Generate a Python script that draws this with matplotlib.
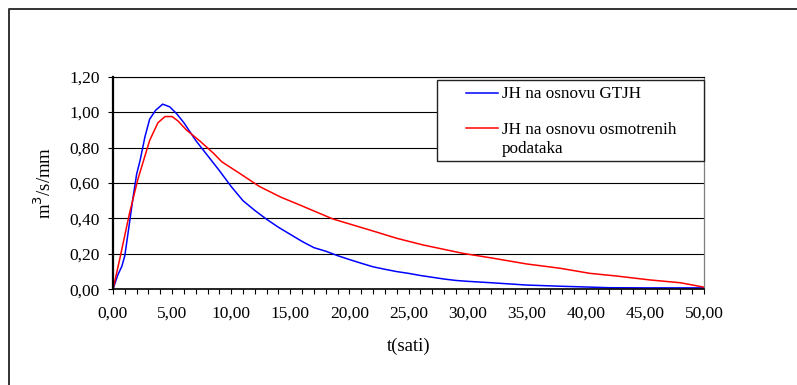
import matplotlib
matplotlib.use("Agg")
import matplotlib.pyplot as plt
from matplotlib.lines import Line2D
from matplotlib.patches import Rectangle
from matplotlib.ticker import MultipleLocator, FuncFormatter

plt.rcParams['font.family'] = ['Liberation Serif', 'DejaVu Serif']

# --- data ---
t_gtjh = [0, 0.4, 0.75, 1.0, 1.3, 1.7, 2.0, 2.3, 2.7, 3.1, 3.6, 4.2, 4.8, 5.4, 6.0,
          7.0, 8.0, 9.0, 10.0, 11.0, 12.0, 13.0, 14.0, 15.0, 16.0, 17.0, 18.0, 19.0,
          20.0, 21.0, 22.0, 23.0, 24.0, 25.0, 26.0, 27.0, 28.0, 29.0, 30.0, 32.0,
          35.0, 38.0, 42.0, 45.0, 50.0]
q_gtjh = [0, 0.08, 0.13, 0.19, 0.33, 0.52, 0.65, 0.73, 0.86, 0.96, 1.01, 1.045, 1.03,
          0.99, 0.94, 0.84, 0.755, 0.67, 0.58, 0.50, 0.445, 0.395, 0.35, 0.31, 0.27,
          0.235, 0.215, 0.19, 0.168, 0.147, 0.127, 0.113, 0.10, 0.09, 0.078, 0.068,
          0.058, 0.05, 0.045, 0.037, 0.024, 0.017, 0.009, 0.008, 0.008]

t_obs = [0, 0.6, 1.4, 2.1, 2.6, 3.1, 3.8, 4.4, 5.0, 5.5, 6.2, 7.4, 8.5, 9.2, 10.7,
         12.4, 14.2, 15.8, 18.6, 22.0, 24.0, 26.25, 29.6, 32.2, 35.0, 37.8, 40.35,
         42.6, 45.4, 48.0, 50.0]
q_obs = [0, 0.18, 0.43, 0.62, 0.73, 0.84, 0.94, 0.975, 0.975, 0.95, 0.90, 0.834,
         0.768, 0.72, 0.655, 0.58, 0.52, 0.476, 0.397, 0.329, 0.288, 0.25, 0.203,
         0.175, 0.143, 0.119, 0.09, 0.075, 0.053, 0.037, 0.012]

label_gtjh = "JH na osnovu GTJH"
label_obs_lines = ["JH na osnovu osmotrenih", "podataka"]
x_label = "t(sati)"
y_label = r"m$^3$/s/mm"

W, H = 797, 385
fig = plt.figure(figsize=(W / 100, H / 100), dpi=100)

def fx(px):
    return px / W

def fy(py):
    return 1 - py / H

ax = fig.add_axes([fx(113), fy(289.3), fx(704) - fx(113), fy(76.7) - fy(289.3)])

l1, = ax.plot(t_gtjh, q_gtjh, color='#0000FF', lw=1.1)
l2, = ax.plot(t_obs, q_obs, color='#FF0000', lw=1.1)

ax.set_xlim(0, 50)
ax.set_ylim(0, 1.2)
ax.xaxis.set_major_locator(MultipleLocator(5))
ax.xaxis.set_minor_locator(MultipleLocator(1))
ax.yaxis.set_major_locator(MultipleLocator(0.2))
fmt = FuncFormatter(lambda v, p: f"{v:.2f}".replace('.', ','))
ax.xaxis.set_major_formatter(fmt)
ax.yaxis.set_major_formatter(fmt)

ax.grid(axis='y', color='black', lw=0.8)
ax.set_axisbelow(True)

ax.tick_params(axis='x', which='both', direction='out', length=3.6, width=0.8,
               color='black', labelsize=12.5, pad=8)
ax.tick_params(axis='y', which='major', direction='out', length=3.8, width=0.8,
               color='black', labelsize=12.5, pad=5.5)

for s in ['left']:
    ax.spines[s].set_linewidth(1.6)
    ax.spines[s].set_color('black')
ax.spines['bottom'].set_linewidth(1.2)
ax.spines['bottom'].set_color('black')
ax.spines['top'].set_linewidth(0.8)
ax.spines['top'].set_color('black')
ax.spines['right'].set_linewidth(0.9)
ax.spines['right'].set_color('#7f7f7f')

fig.text(fx(408.7), fy(346), x_label, ha='center', va='center', fontsize=13.5)
fig.text(fx(44), fy(183), y_label, ha='center', va='center', fontsize=13.5,
         rotation=90)

# legend (drawn manually to match layout)
fig.add_artist(Rectangle((fx(437), fy(161)), fx(704) - fx(437), fy(80) - fy(161),
                         transform=fig.transFigure, facecolor='white',
                         edgecolor='#222222', lw=1.0, zorder=5))
fig.add_artist(Line2D([fx(466), fx(498)], [fy(92.7), fy(92.7)],
                      transform=fig.transFigure, color=l1.get_color(), lw=1.1, zorder=6))
fig.add_artist(Line2D([fx(466), fx(498)], [fy(128.3), fy(128.3)],
                      transform=fig.transFigure, color=l2.get_color(), lw=1.1, zorder=6))
fig.text(fx(502), fy(97.7), label_gtjh, ha='left', va='baseline', fontsize=12.3, zorder=7)
fig.text(fx(502), fy(134.3), label_obs_lines[0], ha='left', va='baseline', fontsize=12.3, zorder=7)
fig.text(fx(502), fy(152.7), label_obs_lines[1], ha='left', va='baseline', fontsize=12.3, zorder=7)

# outer chart frame
fig.add_artist(Line2D([fx(8.5), fx(8.5), fx(800)], [fy(390), fy(9), fy(9)],
                      transform=fig.transFigure, color='#333333', lw=1.4))

fig.savefig("out.png", dpi=100)
